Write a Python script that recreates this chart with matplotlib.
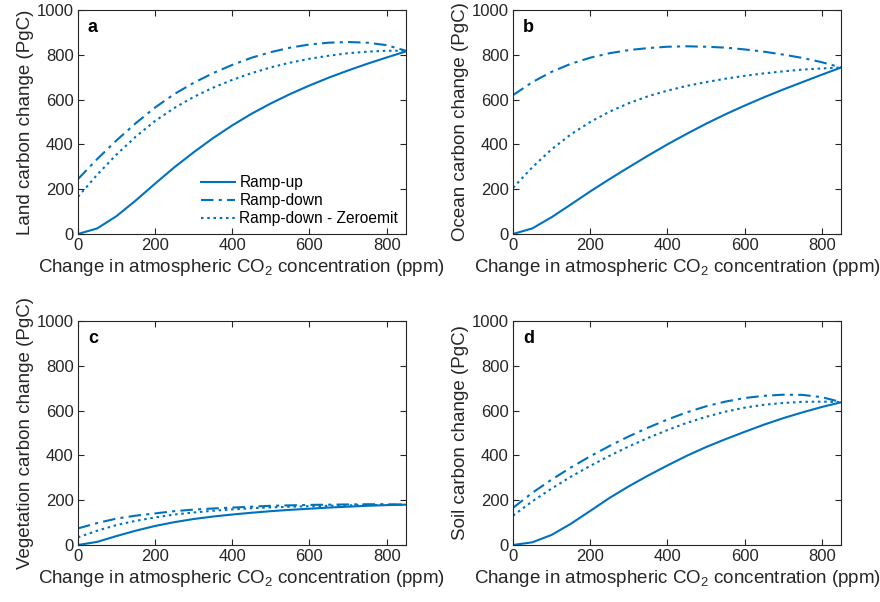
import matplotlib
matplotlib.use("Agg")
import matplotlib.pyplot as plt

co2 = [0, 50, 100, 150, 200, 250, 300, 350, 400, 450, 500, 550, 600, 650, 700, 750, 800, 850]

land_up   = [0, 25, 80, 150, 225, 298, 365, 428, 485, 537, 583, 625, 663, 698, 730, 760, 788, 815]
land_down = [245, 335, 418, 495, 565, 625, 675, 718, 755, 787, 812, 832, 846, 854, 857, 854, 843, 818]
land_zero = [166, 265, 355, 435, 505, 563, 612, 653, 688, 718, 744, 765, 782, 796, 807, 814, 818, 818]

ocean_up   = [0, 25, 75, 132, 190, 245, 298, 350, 400, 447, 492, 534, 573, 610, 645, 678, 711, 743]
ocean_down = [620, 678, 724, 760, 787, 807, 821, 830, 836, 838, 836, 832, 824, 814, 801, 786, 767, 743]
ocean_zero = [206, 298, 378, 445, 500, 546, 584, 615, 640, 661, 678, 693, 706, 717, 726, 734, 739, 743]

veg_up   = [0, 14, 40, 64, 85, 102, 116, 127, 136, 144, 151, 157, 162, 167, 171, 175, 178, 180]
veg_down = [74, 98, 118, 131, 141, 151, 158, 163, 167, 171, 175, 177, 179, 180, 181, 182, 182, 180]
veg_zero = [34, 64, 89, 108, 123, 136, 145, 153, 159, 164, 168, 171, 173, 175, 177, 178, 179, 180]

soil_up   = [0, 12, 45, 95, 152, 210, 262, 310, 355, 398, 437, 472, 505, 537, 566, 592, 616, 637]
soil_down = [166, 233, 292, 346, 396, 442, 485, 524, 560, 592, 619, 640, 656, 666, 671, 670, 660, 638]
soil_zero = [131, 195, 252, 305, 353, 398, 440, 478, 513, 545, 572, 595, 613, 626, 634, 639, 640, 638]

series_names = ["Ramp-up", "Ramp-down", "Ramp-down - Zeroemit"]
panel_letters = ["a", "b", "c", "d"]
ylabels = ["Land carbon change (PgC)", "Ocean carbon change (PgC)",
           "Vegetation carbon change (PgC)", "Soil carbon change (PgC)"]
xlabel = "Change in atmospheric CO$_{2}$ concentration (ppm)"
xticks = [0, 200, 400, 600, 800]
yticks = [0, 200, 400, 600, 800, 1000]

plt.rcParams['font.family'] = ['Liberation Sans', 'DejaVu Sans']
plt.rcParams['mathtext.fontset'] = 'custom'
plt.rcParams['mathtext.rm'] = 'Liberation Sans'

color = '#0072BD'
axcol = '#262626'

fig = plt.figure(figsize=(8.8, 6.02), dpi=100)
positions = [
    [0.0886, 0.6113, 0.3727, 0.3721],
    [0.5830, 0.6113, 0.3727, 0.3721],
    [0.0886, 0.0947, 0.3727, 0.3721],
    [0.5830, 0.0947, 0.3727, 0.3721],
]
data = [
    (land_up, land_down, land_zero),
    (ocean_up, ocean_down, ocean_zero),
    (veg_up, veg_down, veg_zero),
    (soil_up, soil_down, soil_zero),
]

for i, pos in enumerate(positions):
    ax = fig.add_axes(pos)
    up, down, zero = data[i]
    ax.plot(co2, up, color=color, lw=1.5, ls='-', label=series_names[0])
    ax.plot(co2, down, color=color, lw=1.5, ls=(0, (6, 2.5, 1.5, 2.5)), label=series_names[1])
    ax.plot(co2, zero, color=color, lw=1.5, ls=(0, (1.2, 1.8)), label=series_names[2])
    ax.set_xlim(0, 850)
    ax.set_ylim(0, 1000)
    ax.set_xticks(xticks)
    ax.set_yticks(yticks)
    ax.tick_params(direction='in', top=True, right=True, length=4, width=0.8,
                   colors=axcol, labelsize=12, pad=3)
    for s in ax.spines.values():
        s.set_color(axcol)
        s.set_linewidth(0.8)
    ax.set_xlabel(xlabel, fontsize=13.5, color=axcol, labelpad=3)
    ax.set_ylabel(ylabels[i], fontsize=13.5, color=axcol, labelpad=2)
    ax.text(0.03, 0.96, panel_letters[i], transform=ax.transAxes, fontsize=13,
            fontweight='bold', va='top', ha='left', color='black')
    if i == 0:
        ax.legend(loc='lower right', frameon=False, fontsize=11.2,
                  handlelength=2.2, handletextpad=0.25, labelspacing=0.2,
                  borderaxespad=0.1)

fig.savefig("out.png", dpi=100)
